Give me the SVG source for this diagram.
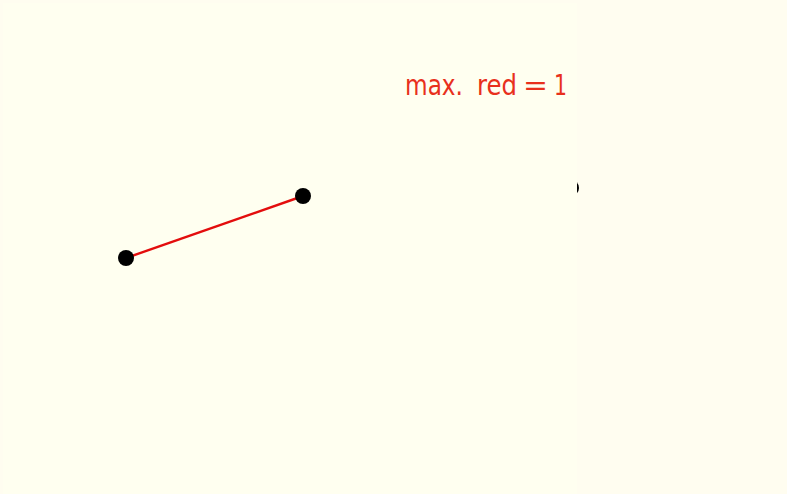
<svg xmlns="http://www.w3.org/2000/svg" width="787" height="494" viewBox="0 0 787 494">
<style>
.node{fill:#000}
.edge{stroke:#e30d0d;stroke-width:2.4;fill:none}
.lbl{font-family:"DejaVu Sans","Liberation Sans",sans-serif;font-size:28px;fill:#e8301c}
</style>
<rect x="0" y="0" width="787" height="494" fill="#fffdf0"/>
<g id="node-hidden"><circle class="node" cx="571" cy="188" r="8"/></g>
<rect x="3" y="3" width="574" height="491" fill="#fffff0"/>
<g id="connectors">
<line class="edge" x1="126" y1="258" x2="303" y2="196"/>
</g>
<g id="node-a"><circle class="node" cx="126" cy="258" r="8"/></g>
<g id="node-b"><circle class="node" cx="303" cy="196" r="8"/></g>
<g id="label"><text class="lbl" y="95"><tspan x="405" textLength="58" lengthAdjust="spacingAndGlyphs">max.</tspan> <tspan x="477" textLength="40" lengthAdjust="spacingAndGlyphs">red</tspan> <tspan x="523" textLength="25" lengthAdjust="spacingAndGlyphs">=</tspan> <tspan x="554" textLength="13" lengthAdjust="spacingAndGlyphs">1</tspan></text></g>
</svg>
